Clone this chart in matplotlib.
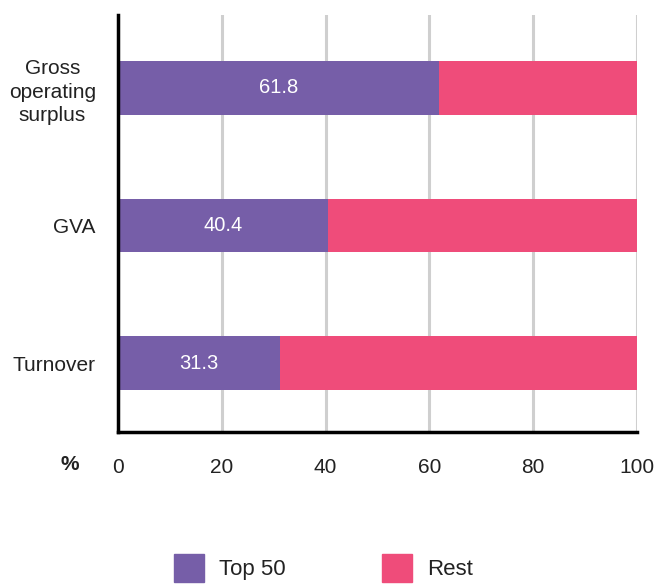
import matplotlib.pyplot as plt
from matplotlib.patches import Patch

plt.rcParams['font.family'] = ['Liberation Sans', 'DejaVu Sans']

# share of each measure held by the top 50 enterprises (%)
categories = ['Turnover', 'GVA', 'Gross\noperating\nsurplus']
top50 = [31.3, 40.4, 61.8]
rest = [100 - v for v in top50]

purple = '#765EA8'
pink = '#EF4C7A'

fig = plt.figure(figsize=(6.64, 5.87), dpi=100)
ax = fig.add_axes([0.1777, 0.264, 0.7816, 0.7104])

pos = range(len(categories))
ax.barh(pos, top50, height=0.39, color=purple, zorder=3)
ax.barh(pos, rest, left=top50, height=0.39, color=pink, zorder=3)

for y, v in zip(pos, top50):
    ax.text(v / 2, y, f'{v:.1f}', color='white', ha='center', va='center',
            fontsize=14.5, zorder=4)

ax.set_xlim(0, 100)
ax.set_ylim(-0.5, 2.53)
ax.set_xticks([0, 20, 40, 60, 80, 100])
ax.set_yticks(list(pos))
ax.set_yticklabels(categories, multialignment='center', linespacing=1.3)
ax.tick_params(axis='both', length=0, labelsize=15, colors='#222222')
ax.tick_params(axis='x', pad=19)
ax.tick_params(axis='y', pad=16)

ax.xaxis.grid(True, color='#CFCFCF', linewidth=2.2, zorder=0)
ax.set_axisbelow(True)
for side in ['top', 'right']:
    ax.spines[side].set_visible(False)
for side in ['left', 'bottom']:
    ax.spines[side].set_linewidth(2.5)
    ax.spines[side].set_color('black')
    ax.spines[side].set_zorder(5)

fig.text(70 / 664, 1 - 465 / 587, '%', ha='center', va='center',
         fontsize=15, fontweight='bold', color='#222222')

handles = [Patch(color=purple, label='Top 50'), Patch(color=pink, label='Rest')]
fig.legend(handles=handles, loc='center', bbox_to_anchor=(0.487, 0.032), ncol=2,
           frameon=False, fontsize=16, handlelength=1.35, handleheight=1.6,
           handletextpad=0.7, columnspacing=4.3, labelcolor='#222222')

fig.savefig('out.png', dpi=100)
